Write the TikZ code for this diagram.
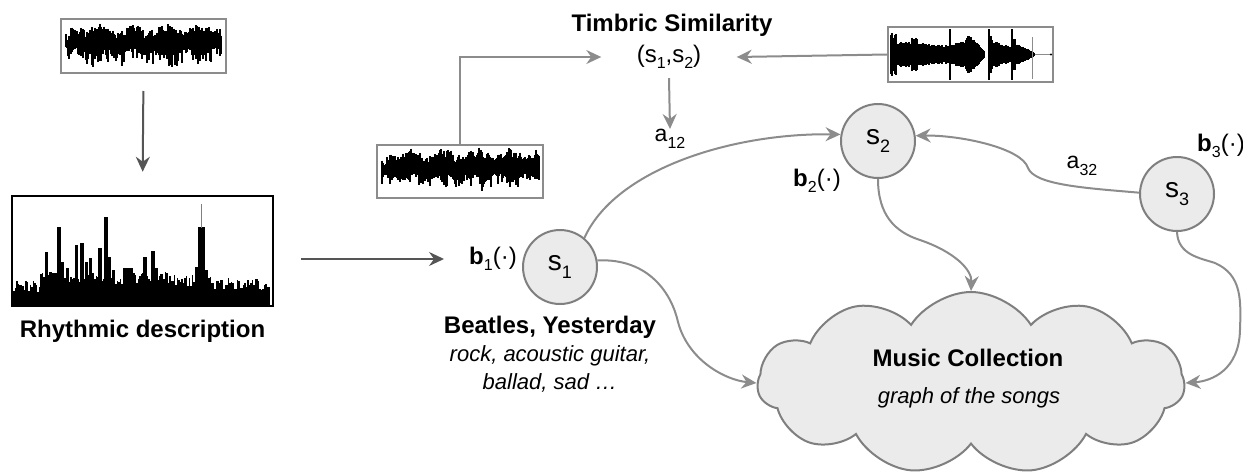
\documentclass[tikz,border=0pt]{standalone}
\usepackage{fontspec}
\setmainfont{Liberation Sans}
\usetikzlibrary{arrows.meta,shapes.symbols}
\definecolor{lg}{HTML}{8C8C8C}
\definecolor{cg}{HTML}{EBEBEB}
\definecolor{cb}{HTML}{7F7F7F}
\definecolor{dg}{HTML}{555555}
\newcommand{\bigf}{\fontsize{24}{28}\selectfont}
\newcommand{\itf}{\fontsize{22}{28}\selectfont\itshape}
\newcommand{\sbs}[1]{\raisebox{-6.5pt}{\fontsize{16}{16}\selectfont #1}}
\newcommand{\sbl}[1]{\raisebox{-7.5pt}{\fontsize{18}{18}\selectfont #1}}
\begin{document}
\begin{tikzpicture}[x=1pt,y=-1pt,
  garrow/.style={draw=lg, line width=2pt, -{Stealth[length=15pt,width=14pt,inset=5pt]}},
  darrow/.style={draw=dg, line width=2pt, -{Stealth[length=15pt,width=14pt,inset=5pt]}},
  state/.style={circle, draw=cb, fill=cg, line width=2pt, minimum size=74pt, inner sep=0pt, font=\fontsize{28}{30}\selectfont},
  wbox/.style={rectangle, draw=lg, line width=2pt, inner sep=0pt},
  wav/.style={line width=1.6pt, black},
  lbl/.style={inner sep=1pt, font=\bigf}]
\useasboundingbox (0,0) rectangle (1243,474);

% ---------- waveform boxes ----------
\node[wbox, minimum width=165pt, minimum height=54pt] (wave1) at (143.5,46) {};
\node[wbox, minimum width=166pt, minimum height=53pt] (wave2) at (460,171.5) {};
\node[wbox, minimum width=165pt, minimum height=55pt] (wave3) at (970.5,54.5) {};

% waveform 1
\pgfmathsetseed{7}
\foreach \x in {66,...,221}{
  \pgfmathsetmacro\ra{rnd}\pgfmathsetmacro\rb{rnd}
  \pgfmathsetmacro\up{(\x<71 ? 3 : 9 + 3*sin((\x-60)*11) + 2*sin((\x-60)*37)) + 8*\ra}
  \pgfmathsetmacro\dn{(\x<71 ? 3 : 7 + 3*sin((\x-60)*13+40)) + 14*\rb*\rb*\rb}
  \draw[wav] (\x,44-\up) -- (\x,44+\dn);
}
% waveform 2
\pgfmathsetseed{11}
\foreach \x in {382,...,539}{
  \pgfmathsetmacro\ra{rnd}\pgfmathsetmacro\rb{rnd}
  \pgfmathsetmacro\up{(\x<387 ? 3 : 9 + 3*sin((\x-370)*11) + 2*sin((\x-370)*37)) + 8*\ra}
  \pgfmathsetmacro\dn{(\x<387 ? 3 : 7 + 3*sin((\x-370)*13+40)) + 14*\rb*\rb*\rb}
  \draw[wav] (\x,169-\up) -- (\x,169+\dn);
}
% waveform 3 (decaying notes)
\pgfmathsetseed{5}
\draw[lg, line width=1pt] (1035,54.5) -- (1050,54.5);
\fill (1051,54.5) circle (1.2pt);
\foreach \x in {891,...,949}{
  \pgfmathsetmacro\ra{rnd}
  \pgfmathsetmacro\env{(\x<897 ? 22 : (\x<912 ? 13 : (\x<918 ? 17 : 12-3*(\x-918)/31)))}
  \pgfmathsetmacro\a{\env*(0.75+0.25*\ra)}
  \draw[wav] (\x,54.5-\a) -- (\x,54.5+\a);
}
\foreach \x in {950,...,984}{
  \pgfmathsetmacro\ra{rnd}
  \pgfmathsetmacro\env{(\x<966 ? 10+(\x-950)/4 : (\x<971 ? 19 : 19-15*(\x-971)/13))}
  \pgfmathsetmacro\a{\env*(0.75+0.25*\ra)}
  \draw[wav] (\x,54.5-\a) -- (\x,54.5+\a);
}
\foreach \x in {989,...,1011}{
  \pgfmathsetmacro\ra{rnd}
  \pgfmathsetmacro\env{(\x<993 ? 19 : 13-4*(\x-993)/18)}
  \pgfmathsetmacro\a{\env*(0.75+0.25*\ra)}
  \draw[wav] (\x,54.5-\a) -- (\x,54.5+\a);
}
\foreach \x in {1012,...,1034}{
  \pgfmathsetmacro\ra{rnd}
  \pgfmathsetmacro\env{(\x<1016 ? 16 : 12-10*(\x-1016)/18)}
  \pgfmathsetmacro\a{\env*(0.75+0.25*\ra)}
  \draw[wav] (\x,54.5-\a) -- (\x,54.5+\a);
}
\foreach \x in {950,989,1012}{\draw[line width=1.3pt] (\x,29) -- (\x,80);}
\draw[lg, line width=1pt] (1032,37) -- (1032,79);

% ---------- rhythmic description ----------
\node[rectangle, draw=black, line width=2.5pt, minimum width=261pt, minimum height=110pt, inner sep=0pt] (rhythm) at (142.5,251) {};
\pgfmathsetseed{3}
\foreach \i in {0,...,170}{
  \pgfmathsetmacro\x{14+1.5*\i}
  \pgfmathsetmacro\ra{rnd}
  \pgfmathsetmacro\h{(\x<40 ? 14 : (\x<175 ? 22 : (\x<215 ? 19 : 16))) + 12*\ra}
  \fill (\x-0.8,306) rectangle (\x+0.8,306-\h);
}
\foreach \a/\b/\t in {45/48/252, 57/61/227, 61/64/262, 66/69/268, 75/78/245, 80/84/243, 85/88/262, 89/92/258, 98/102/248, 104/108/217, 108/111/257, 112/115/270, 123/133/268, 143/147/257, 151/155/251, 155/158/268, 160/163/274, 195/198/267, 198/205/227, 205/208/270}
  \fill (\a,306) rectangle (\b,\t);
\draw[gray, line width=1.2pt] (201.5,228) -- (201.5,204);
\node[font=\bigf\bfseries] (rtitle) at (142.5,331) {Rhythmic description};

\draw[darrow, shorten <=17pt, shorten >=23pt] (wave1.south) -- (rhythm.north);

% ---------- states ----------
\node[state] (s1) at (560,267) {s\sbl{1}};
\node[state] (s2) at (878,141) {s\sbl{2}};
\node[state] (s3) at (1177,194) {s\sbl{3}};

\node[lbl] (b1) at (493,259) {\textbf{b}\sbs{1}(·)};
\node[lbl] (b2) at (817,181) {\textbf{b}\sbs{2}(·)};
\node[lbl] (b3) at (1221,146) {\textbf{b}\sbs{3}(·)};

\draw[darrow, shorten <=27pt, shorten >=24pt] (rhythm.east |- b1.west) -- (b1.west);

\node[font=\bigf\bfseries] (beatles) at (550,327) {Beatles, Yesterday};
\node[font=\itf, align=center] (tags) at (550,369) {rock, acoustic guitar,\\ballad, sad …};

% ---------- timbric similarity ----------
\node[font=\bigf\bfseries] (ttitle) at (672,25) {Timbric Similarity};
\node[font=\bigf, minimum width=135pt, minimum height=42pt, inner sep=0pt] (sim) at (669,57) {(s\sbs{1},s\sbs{2})};
\node[font=\fontsize{23}{26}\selectfont, anchor=north, inner sep=0pt] (a12) at (670,129) {a\sbs{12}};
\node[font=\fontsize{23}{26}\selectfont, inner sep=1pt] (a32) at (1082,166) {a\sbs{32}};

\draw[garrow] (wave2.north) |- (sim.west);
\draw[garrow] (wave3.west) -- (sim.east);
\draw[garrow] (sim.south) -- (a12.north);

% ---------- cloud ----------
\node[cloud, cloud puffs=11, cloud puff arc=115, draw=cb, fill=cg, line width=2pt,
      minimum width=427pt, minimum height=182pt, inner sep=0pt] (cloud) at (971,383) {};
\node[font=\bigf\bfseries] (mc) at (968,358) {Music Collection};
\node[font=\itf] (gs) at (969,398) {graph of the songs};

% ---------- graph edges ----------
\draw[garrow] (s1.50) .. controls (615,170) and (730,133) .. (s2.170);
\draw[garrow] (s3.178) .. controls (1085,188) and (1035,185) .. (1028,168)
              .. controls (1022,148) and (960,135) .. (s2.8);
\draw[garrow] (s1.10) .. controls (650,258) and (672,295) .. (678,322)
              .. controls (688,360) and (725,380) .. (cloud.west);
\draw[garrow] (s2.south) .. controls (878,215) and (895,232) .. (920,240)
              .. controls (955,252) and (972,270) .. (cloud.north);
\draw[garrow] (s3.south) .. controls (1178,255) and (1200,258) .. (1215,263)
              .. controls (1242,275) and (1241,300) .. (1240,330)
              .. controls (1239,370) and (1212,381) .. (cloud.east);
\end{tikzpicture}
\end{document}
